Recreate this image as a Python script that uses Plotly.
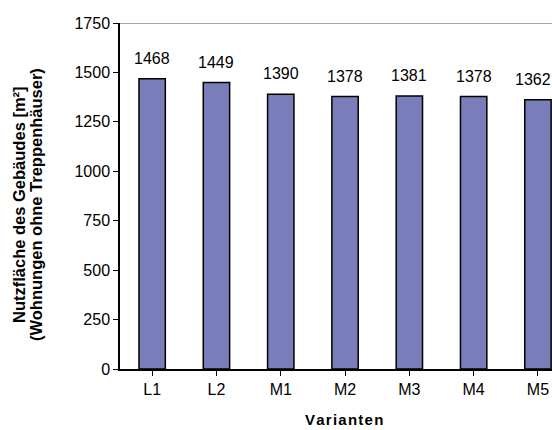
import plotly.graph_objects as go

# Usable floor area per design variant
varianten = ["L1", "L2", "M1", "M2", "M3", "M4", "M5"]
nutzflaeche = [1468, 1449, 1390, 1378, 1381, 1378, 1362]
y_ticks = [0, 250, 500, 750, 1000, 1250, 1500, 1750]

BAR_COLOR = "#797DBA"
FONT = "Liberation Sans, Arial, sans-serif"

# plot area geometry (pixels)
LEFT, TOP, BOTTOM = 120, 23, 61
PLOT_W = 552 - LEFT
PLOT_H = 430 - TOP - BOTTOM
CAT_W = 64.3  # pixel width of one category slot


def px_x(px):
    return (px - LEFT) / PLOT_W


def px_y(py):
    return (430 - BOTTOM - py) / PLOT_H


fig = go.Figure()
fig.add_trace(go.Bar(
    x=list(range(len(varianten))),
    y=nutzflaeche,
    width=0.41,
    marker=dict(color=BAR_COLOR, line=dict(color="black", width=1.5)),
    hoverinfo="skip",
))

# value labels above each bar; the last one is nudged left to stay inside the page
for i, v in enumerate(nutzflaeche):
    fig.add_annotation(x=i, y=v, text=str(v), showarrow=False,
                       yanchor="bottom", yshift=10,
                       xshift=-5 if i == len(nutzflaeche) - 1 else 0,
                       font=dict(family=FONT, size=16, color="black"))

# top frame line of the plot area
fig.add_shape(type="line", xref="paper", yref="y", x0=0, x1=1, y0=1750, y1=1750,
              line=dict(color="#888888", width=1.5))

# y axis title, two bold lines
for px, line in [(19, "Nutzfläche des Gebäudes [m²]"),
                 (36, "(Wohnungen ohne Treppenhäuser)")]:
    fig.add_annotation(xref="paper", yref="paper", x=px_x(px), y=px_y(205),
                       xanchor="center", yanchor="middle",
                       text=f"<b>{line}</b>", textangle=-90, showarrow=False,
                       font=dict(family=FONT, size=16.5, color="black"))

# x axis title
fig.add_annotation(xref="paper", yref="paper", x=px_x(344), y=px_y(419),
                   xanchor="center", yanchor="middle", borderpad=0,
                   text="<b>" + "\u200a".join("Varianten") + "</b>", showarrow=False,
                   font=dict(family=FONT, size=15, color="black"))

fig.update_layout(
    width=552, height=430,
    margin=dict(l=LEFT, r=0, t=TOP, b=BOTTOM),
    paper_bgcolor="white", plot_bgcolor="white",
    showlegend=False,
    font=dict(family=FONT, size=16, color="black"),
    xaxis=dict(
        range=[-0.5, -0.5 + PLOT_W / CAT_W],
        tickmode="array", tickvals=list(range(len(varianten))), ticktext=varianten,
        tickson="boundaries", ticks="outside", ticklen=5, tickcolor="black",
        showline=True, linecolor="black", linewidth=1.5,
        showgrid=False, zeroline=False, fixedrange=True,
        tickfont=dict(family=FONT, size=16, color="black"),
    ),
    yaxis=dict(
        range=[0, 1750], tickvals=y_ticks,
        ticks="outside", ticklen=5, tickcolor="black",
        showline=True, linecolor="black", linewidth=1.5,
        showgrid=False, zeroline=False, fixedrange=True,
        tickfont=dict(family=FONT, size=16, color="black"),
    ),
)

fig.write_html("out.html")
